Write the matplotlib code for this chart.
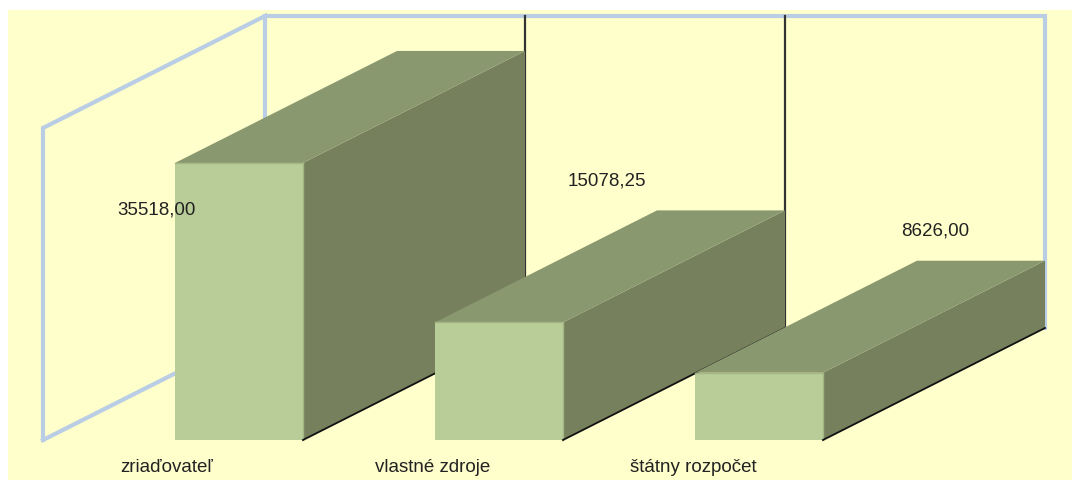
import matplotlib
matplotlib.use("Agg")
import matplotlib.pyplot as plt
from matplotlib.patches import Polygon, Rectangle

# ---- data ----
categories = ["zriaďovateľ", "vlastné zdroje", "štátny rozpočet"]
values = [35518.00, 15078.25, 8626.00]
value_labels = ["35518,00", "15078,25", "8626,00"]
axis_max = 40000

# ---- layout (pixel space of a 1072x480 canvas) ----
W, H = 1072, 480
floor_y = 440.0          # front floor line
x0 = 43.0                # front-left corner of floor
slot = 260.0             # width of one category slot
bar_off = 132.0          # bar offset inside slot
bar_w = 128.0            # bar front width
ddx, ddy = 222.0, 112.0  # depth offset (right, up)
wall_h = 312.0           # pixel height of axis_max
k = wall_h / axis_max

# value label positions (centre, pixel)
label_xy = [(157, 210), (607, 181), (935, 231)]
cat_label_dx = [-6, 0, 0]

bg = "#FFFFCC"
frame_c = "#B9CDE5"
front_c = "#B9CD98"
top_c = "#8A9870"
side_c = "#76805D"
txt_c = "#222222"
fam = ["Liberation Sans", "DejaVu Sans"]

fig = plt.figure(figsize=(W / 100, H / 100), dpi=100)
fig.patch.set_facecolor("white")
ax = fig.add_axes([0, 0, 1, 1])
ax.set_xlim(0, W)
ax.set_ylim(H, 0)
ax.axis("off")

# background panel
ax.add_patch(Rectangle((8, 10), W - 8, H - 10, facecolor=bg, edgecolor="none", zorder=0))

n = len(values)
back_left = x0 + ddx
back_right = x0 + n * slot + ddx
back_floor = floor_y - ddy
back_top = back_floor - wall_h
front_top = floor_y - wall_h

# left wall outline
ax.plot([x0, x0, back_left, back_left], [floor_y, front_top, back_top, back_floor],
        color=frame_c, lw=3, solid_joinstyle="miter", zorder=1)
ax.plot([x0, back_left], [floor_y, back_floor], color=frame_c, lw=3, zorder=1)
# back wall outline
ax.plot([back_left, back_right, back_right], [back_top, back_top, back_floor],
        color=frame_c, lw=3, solid_joinstyle="miter", zorder=1)
# slot dividers on back wall
for i in range(1, n):
    bx = x0 + i * slot + ddx
    ax.plot([bx, bx], [back_top, back_floor], color="#333333", lw=1.6, zorder=1)

# bars
for i, v in enumerate(values):
    xl = x0 + i * slot + bar_off
    xr = xl + bar_w
    yt = floor_y - v * k
    z = 2 + i
    # side face
    ax.add_patch(Polygon([(xr, floor_y), (xr, yt), (xr + ddx, yt - ddy), (xr + ddx, floor_y - ddy)],
                         closed=True, facecolor=side_c, edgecolor="none", zorder=z))
    # top face
    ax.add_patch(Polygon([(xl, yt), (xr, yt), (xr + ddx, yt - ddy), (xl + ddx, yt - ddy)],
                         closed=True, facecolor=top_c, edgecolor="none", zorder=z))
    # front face
    ax.add_patch(Polygon([(xl, floor_y), (xr, floor_y), (xr, yt), (xl, yt)],
                         closed=True, facecolor=front_c, edgecolor="none", zorder=z))
    # highlight edges
    ax.plot([xl, xr], [yt, yt], color="#A3B683", lw=1.0, zorder=z)
    ax.plot([xr, xr], [yt, floor_y], color="#A3B683", lw=1.0, zorder=z)
    # dark bottom edge of side face
    ax.plot([xr, xr + ddx], [floor_y, floor_y - ddy], color="#111111", lw=1.3, zorder=z)

# category labels
for i, c in enumerate(categories):
    cx = x0 + i * slot + slot / 2 + cat_label_dx[i]
    ax.text(cx, 467, c, ha="center", va="center", fontsize=13.5,
            family=fam, color=txt_c, zorder=10)

# value labels
for (lx, ly), s in zip(label_xy, value_labels):
    ax.text(lx, ly, s, ha="center", va="center", fontsize=13.5,
            family=fam, color=txt_c, zorder=10)

fig.savefig("out.png", dpi=100, facecolor=fig.get_facecolor())
